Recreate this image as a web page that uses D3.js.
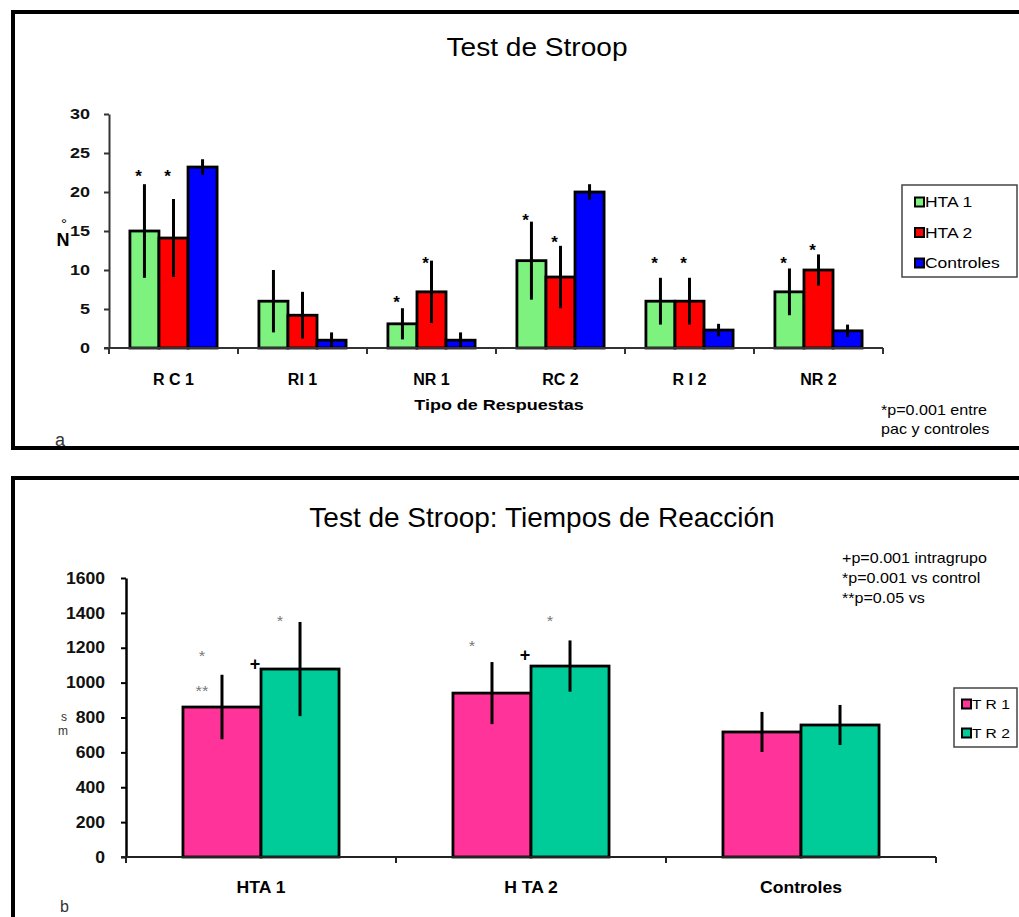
<!DOCTYPE html>
<html>
<head>
<meta charset="utf-8">
<script src="https://cdn.jsdelivr.net/npm/d3@7"></script>
<style>
  html, body { margin: 0; padding: 0; background: #fff; }
  svg { display: block; font-family: "Liberation Sans", Arial, sans-serif; }
</style>
</head>
<body>
<svg id="chart" width="1019" height="917"></svg>
<script>
// ---------- Panel a: Test de Stroop ----------
const topCategories = ["R C 1", "RI 1", "NR 1", "RC 2", "R I 2", "NR 2"];
const topSeries = ["HTA 1", "HTA 2", "Controles"];
const hta1Means = [15, 6, 3.1, 11.2, 6, 7.2];
const hta1Err   = [6, 4, 2, 5, 3, 3];
const hta2Means = [14.1, 4.2, 7.2, 9.1, 6, 10];
const hta2Err   = [5, 3, 4, 4, 3, 2];
const ctrlMeans = [23.2, 1, 1, 20, 2.3, 2.2];
const ctrlErr   = [1, 1, 1, 1, 0.8, 0.8];
const topTicks  = [0, 5, 10, 15, 20, 25, 30];
const topStars  = [
  { cat: "R C 1", series: "HTA 1", value: 22.4 },
  { cat: "R C 1", series: "HTA 2", value: 22.4 },
  { cat: "NR 1",  series: "HTA 1", value: 6.3 },
  { cat: "NR 1",  series: "HTA 2", value: 11.3 },
  { cat: "RC 2",  series: "HTA 1", value: 16.8 },
  { cat: "RC 2",  series: "HTA 2", value: 14.0 },
  { cat: "R I 2", series: "HTA 1", value: 11.3 },
  { cat: "R I 2", series: "HTA 2", value: 11.3 },
  { cat: "NR 2",  series: "HTA 1", value: 11.3 },
  { cat: "NR 2",  series: "HTA 2", value: 12.9 }
];
const topNote = ["*p=0.001 entre", "pac y controles"];

// ---------- Panel b: Tiempos de Reacción ----------
const botCategories = ["HTA 1", "H TA 2", "Controles"];
const botSeries = ["T R 1", "T R 2"];
const tr1Means = [860, 940, 717];
const tr1Err   = [185, 178, 115];
const tr2Means = [1078, 1095, 757];
const tr2Err   = [270, 147, 115];
const botTicks = [0, 200, 400, 600, 800, 1000, 1200, 1400, 1600];
const botMarks = [
  { cat: "HTA 1",  series: "T R 1", value: 1175, text: "*",  kind: "star" },
  { cat: "HTA 1",  series: "T R 1", value: 975,  text: "**", kind: "star" },
  { cat: "HTA 1",  series: "T R 1", value: 1107, text: "+",  kind: "plus" },
  { cat: "HTA 1",  series: "T R 2", value: 1376, text: "*",  kind: "star" },
  { cat: "H TA 2", series: "T R 1", value: 1233, text: "*",  kind: "star" },
  { cat: "H TA 2", series: "T R 1", value: 1158, text: "+",  kind: "plus" },
  { cat: "H TA 2", series: "T R 2", value: 1376, text: "*",  kind: "star" }
];
const botNote = ["+p=0.001  intragrupo", "*p=0.001  vs control", "**p=0.05 vs"];

// ---------- drawing ----------
const svg = d3.select("#chart");

function label(g, x, y, s, o = {}) {
  const sx = o.sx || 1;
  return g.append("text")
    .attr("transform", `translate(${x},${y}) scale(${sx},1)`)
    .attr("text-anchor", o.anchor || "middle")
    .style("font-size", (o.size || 14) + "px")
    .style("font-weight", o.weight || "normal")
    .attr("fill", o.fill || "#000")
    .text(s);
}

// panel frames
svg.append("path").attr("d", "M1025,12 H13 V448 H1025")
  .attr("fill", "none").attr("stroke", "#000").attr("stroke-width", 4);
svg.append("path").attr("d", "M1025,478 H13 V930")
  .attr("fill", "none").attr("stroke", "#000").attr("stroke-width", 4);

// ===== Panel a =====
{
  const g = svg.append("g");
  const x = d3.scaleBand().domain(topCategories).range([109, 883]).padding(0);
  const xs = d3.scaleBand().domain(topSeries).range([0, x.bandwidth()]).paddingInner(0).paddingOuter(0.72);
  const y = d3.scaleLinear().domain([0, 30]).range([348, 114]);
  const color = d3.scaleOrdinal().domain(topSeries).range(["#7ef27e", "#ff0000", "#0000ff"]);
  const means = [hta1Means, hta2Means, ctrlMeans];
  const errs = [hta1Err, hta2Err, ctrlErr];
  const rows = [];
  topSeries.forEach((s, si) => topCategories.forEach((c, ci) =>
    rows.push({ cat: c, series: s, v: means[si][ci], e: errs[si][ci] })));

  label(g, 537, 56, "Test de Stroop", { size: 26, sx: 1.08 });

  g.selectAll("rect.bar").data(rows).join("rect").attr("class", "bar")
    .attr("x", d => x(d.cat) + xs(d.series))
    .attr("width", xs.bandwidth())
    .attr("y", d => y(d.v))
    .attr("height", d => y(0) - y(d.v))
    .attr("fill", d => color(d.series))
    .attr("stroke", "#000").attr("stroke-width", 2.8);

  g.selectAll("line.err").data(rows).join("line").attr("class", "err")
    .attr("x1", d => x(d.cat) + xs(d.series) + xs.bandwidth() / 2)
    .attr("x2", d => x(d.cat) + xs(d.series) + xs.bandwidth() / 2)
    .attr("y1", d => y(Math.max(0, d.v - d.e)))
    .attr("y2", d => y(d.v + d.e))
    .attr("stroke", "#000").attr("stroke-width", 3);

  topStars.forEach(s => {
    const cx = x(s.cat) + xs(s.series) + xs.bandwidth() / 2 - 6;
    label(g, cx, y(s.value) + 9, "*", { size: 17, weight: "bold" });
  });

  const ya = g.append("g").attr("transform", "translate(109,0)")
    .call(d3.axisLeft(y).tickValues(topTicks).tickFormat(d3.format("d"))
      .tickSize(5).tickSizeOuter(0).tickPadding(14));
  ya.select(".domain").attr("stroke", "#333").attr("stroke-width", 2);
  ya.selectAll(".tick line").attr("stroke", "#333").attr("stroke-width", 2);
  ya.selectAll(".tick text")
    .style("font-size", "15px").style("font-weight", "bold")
    .style("font-family", "Liberation Sans, Arial, sans-serif")
    .attr("fill", "#111")
    .attr("transform", "scale(1.2,1)").attr("x", -19 / 1.2);

  const xr = x.range();
  g.append("line").attr("x1", 104).attr("x2", xr[1]).attr("y1", y(0)).attr("y2", y(0))
    .attr("stroke", "#333").attr("stroke-width", 2);
  const bounds = topCategories.map(c => x(c)).concat([xr[1]]);
  g.selectAll("line.xt").data(bounds).join("line").attr("class", "xt")
    .attr("x1", d => d).attr("x2", d => d).attr("y1", y(0)).attr("y2", y(0) + 6)
    .attr("stroke", "#333").attr("stroke-width", 2);
  topCategories.forEach(c => label(g, x(c) + x.bandwidth() / 2, 385, c, { size: 16, weight: "bold" }));
  label(g, 499, 410, "Tipo de Respuestas", { size: 15, weight: "bold", sx: 1.2 });

  // y label "N°"
  label(g, 63, 246, "N", { size: 18, weight: "bold" });
  label(g, 64, 229, "°", { size: 15 });

  const lg = g.append("g");
  lg.append("rect").attr("x", 902).attr("y", 185).attr("width", 115).attr("height", 92)
    .attr("fill", "#fff").attr("stroke", "#444").attr("stroke-width", 1.5);
  const ly = d3.scalePoint().domain(topSeries).range([202, 263]);
  topSeries.forEach(s => {
    lg.append("rect").attr("x", 915).attr("y", ly(s) - 4.5).attr("width", 9).attr("height", 9)
      .attr("fill", color(s)).attr("stroke", "#000").attr("stroke-width", 2);
    label(lg, 925, ly(s) + 5, s, { size: 14, anchor: "start", sx: 1.25 });
  });

  topNote.forEach((t, i) => label(g, 881, 415 + i * 19, t, { size: 14, anchor: "start", sx: 1.15 }));
  label(g, 55, 446, "a", { size: 18, anchor: "start", fill: "#333" });
}

// ===== Panel b =====
{
  const g = svg.append("g");
  const x = d3.scaleBand().domain(botCategories).range([126, 936]).padding(0);
  const xs = d3.scaleBand().domain(botSeries).range([0, x.bandwidth()]).paddingInner(0).paddingOuter(0.73);
  const y = d3.scaleLinear().domain([0, 1600]).range([857, 578]);
  const color = d3.scaleOrdinal().domain(botSeries).range(["#ff3399", "#00cc99"]);
  const means = [tr1Means, tr2Means];
  const errs = [tr1Err, tr2Err];
  const rows = [];
  botSeries.forEach((s, si) => botCategories.forEach((c, ci) =>
    rows.push({ cat: c, series: s, v: means[si][ci], e: errs[si][ci] })));

  label(g, 542, 527, "Test de Stroop: Tiempos de Reacción", { size: 28 });

  g.selectAll("rect.bar").data(rows).join("rect").attr("class", "bar")
    .attr("x", d => x(d.cat) + xs(d.series))
    .attr("width", xs.bandwidth())
    .attr("y", d => y(d.v))
    .attr("height", d => y(0) - y(d.v))
    .attr("fill", d => color(d.series))
    .attr("stroke", "#000").attr("stroke-width", 2.8);

  g.selectAll("line.err").data(rows).join("line").attr("class", "err")
    .attr("x1", d => x(d.cat) + xs(d.series) + xs.bandwidth() / 2)
    .attr("x2", d => x(d.cat) + xs(d.series) + xs.bandwidth() / 2)
    .attr("y1", d => y(d.v - d.e))
    .attr("y2", d => y(d.v + d.e))
    .attr("stroke", "#000").attr("stroke-width", 3);

  botMarks.forEach(m => {
    const cx = x(m.cat) + xs(m.series);
    if (m.kind === "plus") {
      label(g, cx + xs.bandwidth() - 6, y(m.value) + 6, m.text, { size: 18, weight: "bold" });
    } else {
      label(g, cx + xs.bandwidth() / 2 - 20, y(m.value) + 9, m.text, { size: 15, fill: "#777", sx: 1.1 });
    }
  });

  const ya = g.append("g").attr("transform", "translate(126,0)")
    .call(d3.axisLeft(y).tickValues(botTicks).tickFormat(d3.format("d"))
      .tickSize(5).tickSizeOuter(0).tickPadding(16));
  ya.select(".domain").attr("stroke", "#000").attr("stroke-width", 2.5);
  ya.selectAll(".tick line").attr("stroke", "#000").attr("stroke-width", 2);
  ya.selectAll(".tick text")
    .style("font-size", "16px").style("font-weight", "bold")
    .style("font-family", "Liberation Sans, Arial, sans-serif")
    .attr("fill", "#111")
    .attr("transform", "scale(1.1,1)").attr("x", -21 / 1.1);

  const xr = x.range();
  g.append("line").attr("x1", 121).attr("x2", xr[1]).attr("y1", y(0)).attr("y2", y(0))
    .attr("stroke", "#222").attr("stroke-width", 2);
  const bounds = botCategories.map(c => x(c)).concat([xr[1]]);
  g.selectAll("line.xt").data(bounds).join("line").attr("class", "xt")
    .attr("x1", d => d).attr("x2", d => d).attr("y1", y(0)).attr("y2", y(0) + 6)
    .attr("stroke", "#222").attr("stroke-width", 2);
  botCategories.forEach(c => label(g, x(c) + x.bandwidth() / 2, 893, c, { size: 16, weight: "bold", sx: 1.1 }));

  // y label "ms" (letters stacked)
  label(g, 64, 721, "s", { size: 12, fill: "#333" });
  label(g, 63, 735, "m", { size: 12, fill: "#333" });

  const lg = g.append("g");
  lg.append("rect").attr("x", 954).attr("y", 688).attr("width", 63).attr("height", 59)
    .attr("fill", "#fff").attr("stroke", "#444").attr("stroke-width", 1.5);
  const ly = d3.scalePoint().domain(botSeries).range([704, 733]);
  botSeries.forEach(s => {
    lg.append("rect").attr("x", 962).attr("y", ly(s) - 4.5).attr("width", 9).attr("height", 9)
      .attr("fill", color(s)).attr("stroke", "#000").attr("stroke-width", 2);
    label(lg, 972, ly(s) + 5, s, { size: 13, anchor: "start", sx: 1.2 });
  });

  botNote.forEach((t, i) => label(g, 842, 563 + i * 20, t, { size: 14, anchor: "start", sx: 1.15 }));
  label(g, 60, 912, "b", { size: 16, anchor: "start", fill: "#333" });
}
</script>
</body>
</html>
